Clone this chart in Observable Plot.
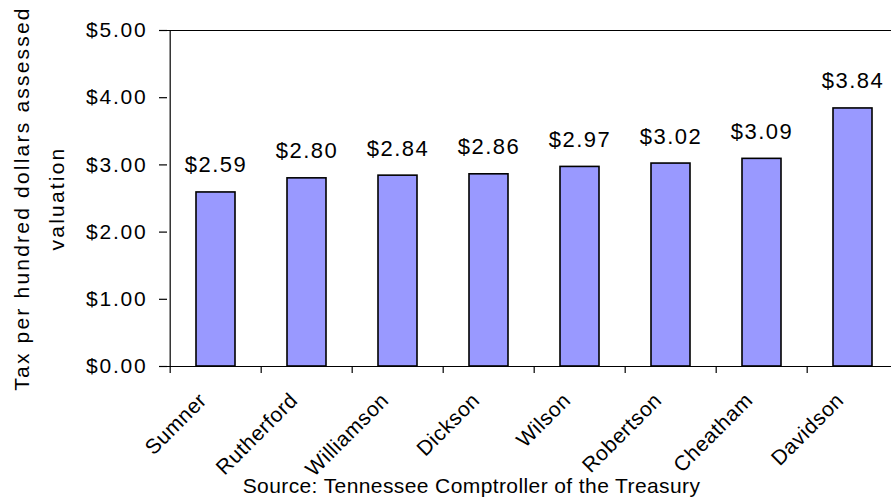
<!DOCTYPE html>
<html>
<head>
<meta charset="utf-8">
<script src="https://cdn.jsdelivr.net/npm/d3@7"></script>
<script src="https://cdn.jsdelivr.net/npm/@observablehq/plot@0.6"></script>
<style>
  html, body { margin: 0; padding: 0; background: white; }
  svg text { font-family: "Liberation Sans", Arial, sans-serif; }
</style>
</head>
<body>
<div id="chart"></div>
<script>
const counties = ["Sumner", "Rutherford", "Williamson", "Dickson", "Wilson", "Robertson", "Cheatham", "Davidson"];
const rates = [2.59, 2.80, 2.84, 2.86, 2.97, 3.02, 3.09, 3.84];
const yTicks = [0, 1, 2, 3, 4, 5];
const yTitle = ["Tax per hundred dollars assessed", "valuation"];
const source = "Source: Tennessee Comptroller of the Treasury";

const data = counties.map((c, i) => ({county: c, rate: rates[i]}));
const fmt = d3.format("$.2f");

const W = 891, H = 502, ML = 167, MT = 30, MB = 136;
const xRange = [167, 900];
const step = (xRange[1] - xRange[0]) / counties.length;

const chart = Plot.plot({
  width: W, height: H,
  marginLeft: ML, marginRight: 0, marginTop: MT, marginBottom: MB,
  style: {background: "white", color: "black", fontSize: "21px", fontFamily: "Liberation Sans, Arial, sans-serif"},
  x: {domain: counties, range: xRange, paddingInner: 0.574, paddingOuter: 0.287, axis: null},
  y: {domain: [0, 5]},
  marks: [
    Plot.ruleY([5], {stroke: "black", strokeWidth: 1.2}),
    Plot.barY(data, {x: "county", y: "rate", fill: "#9999FF", stroke: "black", strokeWidth: 1.6}),
    Plot.ruleY([0], {stroke: "black", strokeWidth: 1.2}),
    Plot.ruleX([counties[0]], {x: d => d, dx: -step / 2, stroke: "black", strokeWidth: 1.2}),
    Plot.ruleX(counties, {x: d => d, dx: -step / 2, y1: 0, y2: 0, insetTop: 7, stroke: "black", strokeWidth: 1.2}),
    Plot.axisY({ticks: yTicks, tickSize: 8, tickPadding: 12, tickFormat: fmt, label: null, fontSize: 21, strokeWidth: 1.2}),
    Plot.text(data, {x: "county", y: "rate", text: d => fmt(d.rate), dy: -20, lineAnchor: "bottom", fontSize: 22}),
    Plot.text(counties, {x: d => d, text: d => d, frameAnchor: "bottom", rotate: -45, textAnchor: "end", lineAnchor: "bottom", dx: -8, dy: 35, fontSize: 21}),
    Plot.text([yTitle[0]], {text: d => d, frameAnchor: "left", rotate: -90, textAnchor: "middle", lineAnchor: "bottom", dx: 28 - ML, fontSize: 21}),
    Plot.text([yTitle[1]], {text: d => d, frameAnchor: "left", rotate: -90, textAnchor: "middle", lineAnchor: "bottom", dx: 63 - ML, fontSize: 21}),
    Plot.text([source], {text: d => d, frameAnchor: "bottom", textAnchor: "middle", lineAnchor: "bottom", dx: 471 - (ML + W) / 2, dy: 126, fontSize: 21})
  ]
});

// Widen text slightly, as in the original (stretched) rendering
const valueLabels = rates.map(fmt);
const spacing = (t) => {
  if (valueLabels.includes(t)) return "1.5px";
  if (t.startsWith("$")) return "1.8px";
  if (counties.includes(t)) return "0.6px";
  if (yTitle.includes(t)) return "2.2px";
  if (t === source) return "0.4px";
  return null;
};
d3.select(chart).selectAll("text").each(function () {
  const s = spacing(this.textContent || "");
  if (s) this.style.letterSpacing = s;
});
document.getElementById("chart").appendChild(chart);
</script>
</body>
</html>
